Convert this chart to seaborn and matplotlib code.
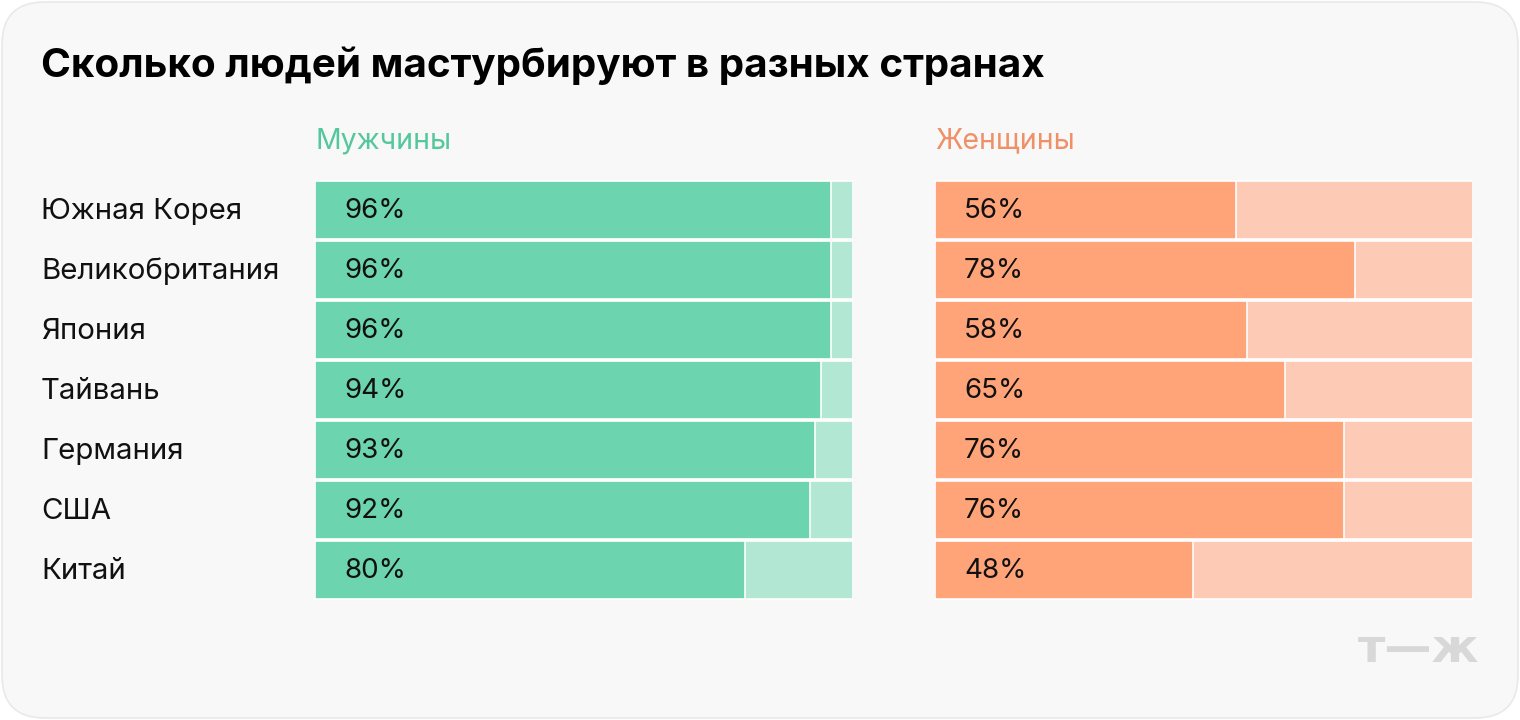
import matplotlib
matplotlib.use("Agg")
import matplotlib.pyplot as plt
from matplotlib.patches import FancyBboxPatch
import seaborn as sns
import pandas as pd

countries = ["Южная Корея", "Великобритания", "Япония", "Тайвань", "Германия", "США", "Китай"]
men = [96, 96, 96, 94, 93, 92, 80]
women = [56, 78, 58, 65, 76, 76, 48]
title = "Сколько людей мастурбируют в разных странах"
men_label = "Мужчины"
women_label = "Женщины"

sns.set_theme(style="white")
plt.rcParams["font.family"] = ["Inter", "DejaVu Sans"]

W, H = 1520, 720
fig = plt.figure(figsize=(W / 100, H / 100), dpi=100)
fig.patch.set_facecolor("white")

card = FancyBboxPatch((2 / W, 2 / H), (W - 4) / W, (H - 4) / H,
                      boxstyle="round,pad=0,rounding_size=0.028",
                      transform=fig.transFigure, facecolor="#f8f8f8",
                      edgecolor="#e9e9e9", linewidth=1.2, zorder=-10,
                      mutation_aspect=W / H)
fig.patches.append(card)

df = pd.DataFrame({"country": countries, "men": men, "women": women, "full": [100] * len(countries)})

def panel(left, col, dark, light, label, label_color):
    ax = fig.add_axes([left / W, 1 - 600 / H, 538 / W, 420 / H])
    ax.set_facecolor("none")
    ax.set_zorder(1)
    sns.barplot(data=df, x="full", y="country", orient="h", color=light, width=0.97,
                edgecolor="white", linewidth=1.2, saturation=1, ax=ax)
    sns.barplot(data=df, x=col, y="country", orient="h", color=dark, width=0.97,
                edgecolor="white", linewidth=1.2, saturation=1, ax=ax)
    ax.set_xlim(0, 100)
    ax.set_ylim(6.5, -0.5)
    for i, v in enumerate(df[col]):
        ax.text(5.4, i + 0.02, f"{v}%", va="center", ha="left", fontsize=20, color="#111111")
    ax.set_xlabel("")
    ax.set_ylabel("")
    ax.set_xticks([])
    ax.set_yticks([])
    for s in ax.spines.values():
        s.set_visible(False)
    fig.text(left / W, 1 - 141 / H, label, fontsize=20.5, color=label_color, va="center", ha="left")
    return ax

ax1 = panel(315, "men", "#6cd4ae", "#b1e7d3", men_label, "#55c79c")
ax2 = panel(935, "women", "#ffa479", "#fdcbb5", women_label, "#ef9067")

for i, c in enumerate(countries):
    ax1.text(-274 / 538 * 100, i + 0.02, c, va="center", ha="left", fontsize=21.2, color="#111111",
             clip_on=False)

fig.text(41 / W, 1 - 66 / H, title, fontsize=29.1, fontweight="bold", color="#000000",
         va="center", ha="left")

fig.text(1419 / W, 1 - 650 / H, "т—ж", fontsize=34, fontweight="black", color="#d8d8d8",
         va="center", ha="center", family=["DejaVu Sans"])

fig.savefig("out.png", dpi=100, facecolor="white")
